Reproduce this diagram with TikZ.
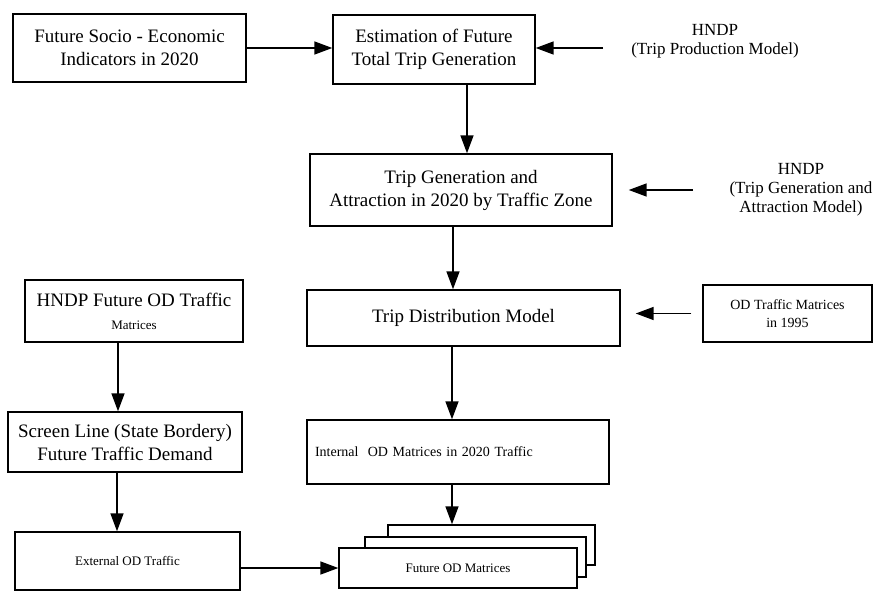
\documentclass[tikz,border=0pt]{standalone}
\usepackage{fontspec}
\setmainfont{Liberation Serif}
\usepackage{tikz}
\usetikzlibrary{positioning}
\usetikzlibrary{calc}
\usetikzlibrary{arrows.meta}
\tikzstyle{block} = [draw, rectangle, line width=1.4pt, fill=white, align=center, inner sep=0pt, font=\fontsize{19}{23}\selectfont]
\tikzstyle{smallblock} = [block, font=\fontsize{13}{16}\selectfont]
\tikzstyle{note} = [align=center, inner sep=0pt, font=\fontsize{17}{19}\selectfont]
\tikzstyle{coord} = [coordinate]
\tikzstyle{arr} = [-{Triangle[length=18pt,width=13pt]}, line width=1.6pt]

\begin{document}
\begin{tikzpicture}[x=1pt,y=-1pt]
    \useasboundingbox (0,0) rectangle (873,590);
    \node [block, minimum width=233pt, minimum height=68pt] (socio) at (129.5,48) {Future Socio - Economic\\Indicators in 2020};
    \node [block, minimum width=202pt, minimum height=69pt] (estim) at (434,49.5) {Estimation of Future\\Total Trip Generation};
    \node [note] (hndp1) at (715,41) {HNDP\\(Trip Production Model)};
    \node [block, minimum width=302pt, minimum height=72pt] (tripgen) at (461,190) {Trip Generation and\\Attraction in 2020 by Traffic Zone};
    \node [note] (hndp2) at (801,190) {HNDP\\(Trip Generation and\\Attraction Model)};
    \node [block, minimum width=313pt, minimum height=56pt] (tripdist) at (463.5,318) {Trip Distribution Model};
    \node [smallblock, minimum width=169pt, minimum height=57pt, font=\fontsize{14}{18}\selectfont] (od1995) at (787.5,313.5) {OD Traffic Matrices\\in 1995};
    \node [block, minimum width=218pt, minimum height=62pt] (hndpod) at (134,311) {HNDP Future OD Traffic\\{\fontsize{13}{16}\selectfont Matrices}};
    \node [block, minimum width=234pt, minimum height=60pt] (screen) at (125,442) {Screen Line (State Bordery)\\Future Traffic Demand};
    \node [smallblock, minimum width=302pt, minimum height=64pt, text width=286pt, align=left, inner xsep=8pt, font=\fontsize{14}{16}\selectfont] (internal) at (458,452) {Internal\ \ OD Matrices in 2020 Traffic};
    \node [smallblock, minimum width=225pt, minimum height=58pt] (external) at (127.5,561) {External OD Traffic};
    % stacked matrices
    \node [smallblock, minimum width=207pt, minimum height=40pt] (back) at (491.5,545) {};
    \node [smallblock, minimum width=221pt, minimum height=40pt] (mid) at (475.5,557) {};
    \node [smallblock, minimum width=238pt, minimum height=40pt] (front) at (458,568) {Future OD Matrices};
    \node [coord] (p1) at (603,48) {};
    \node [coord] (p2) at (693,190) {};

    \draw [arr] (socio.east) -- (socio.east -| estim.west);
    \draw [arr] (p1) -- (p1 -| estim.east);
    \draw [arr] ([xshift=33pt]estim.south) -- ([xshift=33pt]estim.south |- tripgen.north);
    \draw [arr, shorten >=16pt] (p2) -- (p2 -| tripgen.east);
    \draw [arr] ([xshift=-8pt]tripgen.south) -- ([xshift=-8pt]tripgen.south |- tripdist.north);
    \draw [arr, shorten <=11pt, shorten >=15pt] (od1995.west) -- (od1995.west -| tripdist.east);
    \draw [arr] ([xshift=-11.5pt]tripdist.south) -- ([xshift=-11.5pt]tripdist.south |- internal.north);
    \draw [arr] ([xshift=-6pt]internal.south) -- ([xshift=-6pt]internal.south |- back.north);
    \draw [arr] ([xshift=-16pt]hndpod.south) -- ([xshift=-16pt]hndpod.south |- screen.north);
    \draw [arr] ([xshift=-8pt]screen.south) -- ([xshift=-8pt]screen.south |- external.north);
    \draw [arr] (external.east |- front.west) -- (front.west);
\end{tikzpicture}
\end{document}
